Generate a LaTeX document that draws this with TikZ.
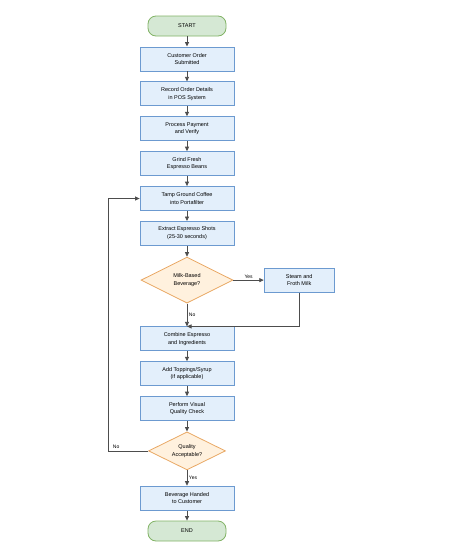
\documentclass[tikz,border=0pt]{standalone}
\usepackage{fontspec}
\setsansfont{Liberation Sans}
\usetikzlibrary{positioning, arrows.meta, shapes.geometric}
\definecolor{boxblue}{HTML}{E3EFFB}
\definecolor{edgeblue}{HTML}{6C9AD0}
\definecolor{termg}{HTML}{D5E8D4}
\definecolor{termedge}{HTML}{82B366}
\definecolor{decfill}{HTML}{FFF1DE}
\definecolor{decedge}{HTML}{E9A864}
\definecolor{lineg}{HTML}{4D4D4D}

\begin{document}
\begin{tikzpicture}[
        font=\sffamily\fontsize{5.5}{7.7}\selectfont,
        node distance=10.1pt,
        term/.style={rectangle, rounded corners=8pt, draw=termedge, fill=termg,
          line width=0.8pt, minimum width=78pt, minimum height=20pt},
        proc/.style={rectangle, draw=edgeblue, fill=boxblue, line width=0.8pt,
          minimum width=94pt, minimum height=24pt, align=center, inner sep=1pt},
        dec/.style={diamond, shape aspect=2, draw=decedge, fill=decfill, line width=0.8pt,
          align=center, inner sep=0pt},
        lbl/.style={font=\sffamily\fontsize{5}{6}\selectfont, inner sep=1.5pt},
        ->/.style={-{Triangle[length=4.5pt, width=4pt]}, draw=lineg, line width=0.8pt}]
      \useasboundingbox (0,0) rectangle (448pt,-552pt);
      \node[term] (start) at (187pt,-26pt) {START};
      \node[proc, below=of start] (order) {Customer Order\\Submitted};
      \node[proc, below=of order] (record) {Record Order Details\\in POS System};
      \node[proc, below=of record] (pay) {Process Payment\\and Verify};
      \node[proc, below=of pay] (grind) {Grind Fresh\\Espresso Beans};
      \node[proc, below=of grind] (tamp) {Tamp Ground Coffee\\into Portafilter};
      \node[proc, below=of tamp] (extract) {Extract Espresso Shots\\(25-30 seconds)};
      \node[dec, minimum width=92pt, minimum height=46pt, below=10.9pt of extract] (milk) {Milk-Based\\Beverage?};
      \node[proc, minimum width=70pt, right=30.4pt of milk] (steam) {Steam and\\Froth Milk};
      \node[proc, below=22.9pt of milk] (combine) {Combine Espresso\\and Ingredients};
      \node[proc, below=of combine] (toppings) {Add Toppings/Syrup\\(if applicable)};
      \node[proc, below=of toppings] (check) {Perform Visual\\Quality Check};
      \node[dec, minimum width=77pt, minimum height=38pt, below=10.5pt of check] (quality) {Quality\\Acceptable?};
      \node[proc, below=15.4pt of quality] (handed) {Beverage Handed\\to Customer};
      \node[term, below=of handed] (end) {END};
      \draw [->] (start) to (order);
      \draw [->] (order) to (record);
      \draw [->] (record) to (pay);
      \draw [->] (pay) to (grind);
      \draw [->] (grind) to (tamp);
      \draw [->] (tamp) to (extract);
      \draw [->] (extract) to (milk);
      \draw [->] (milk) to node[lbl, above] {Yes} (steam);
      \draw [->] (milk) to node[lbl, right] {No} (combine);
      \draw [->] (steam.south) |- (combine.north);
      \draw [->] (combine) to (toppings);
      \draw [->] (toppings) to (check);
      \draw [->] (check) to (quality);
      \draw [->] (quality) to node[lbl, right] {Yes} (handed);
      \draw [->] (quality.west) -- node[lbl, pos=0.8, above] {No} ++(-40pt,0) |- (tamp.west);
      \draw [->] (handed) to (end);
    \end{tikzpicture}
\end{document}
